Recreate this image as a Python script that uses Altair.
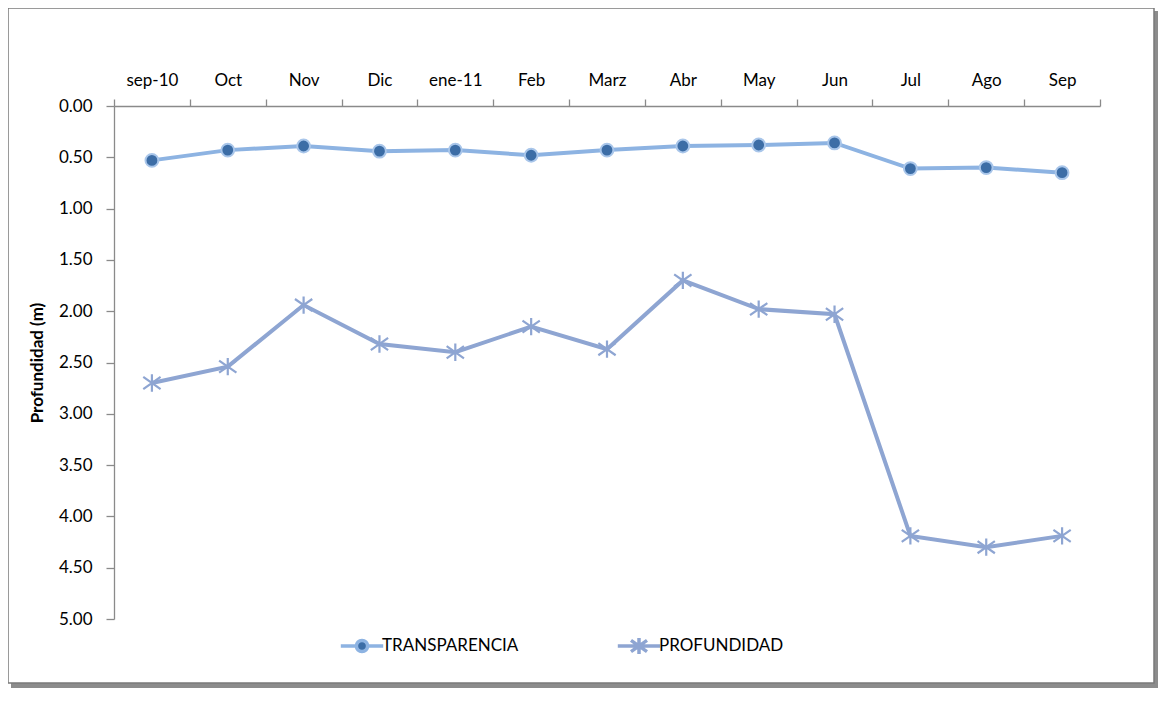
import altair as alt
import pandas as pd

months = ["sep-10", "Oct", "Nov", "Dic", "ene-11", "Feb", "Marz", "Abr", "May", "Jun", "Jul", "Ago", "Sep"]
transparencia = [0.53, 0.43, 0.39, 0.44, 0.43, 0.48, 0.43, 0.39, 0.38, 0.36, 0.61, 0.60, 0.65]
profundidad = [2.70, 2.54, 1.94, 2.32, 2.40, 2.15, 2.37, 1.70, 1.98, 2.03, 4.19, 4.30, 4.19]
series = ["TRANSPARENCIA", "PROFUNDIDAD"]
y_ticks = [0, 0.5, 1, 1.5, 2, 2.5, 3, 3.5, 4, 4.5, 5]

rows = []
for name, vals in zip(series, [transparencia, profundidad]):
    for m, v in zip(months, vals):
        rows.append({"Mes": m, "Serie": name, "Valor": v})
df = pd.DataFrame(rows)

FONT = "Lato"
circle = "M-0.8,0A0.8,0.8 0 1,1 0.8,0A0.8,0.8 0 1,1 -0.8,0Z"
star = "M0,-1V1M-1,-0.7L1,0.7M-1,0.7L1,-0.7"
leg_circle = "M-2.65,0H-0.7M0.7,0H2.65M-0.7,0A0.7,0.7 0 1,1 0.7,0A0.7,0.7 0 1,1 -0.7,0Z"
leg_star = "M-2.65,0H2.65M0,-1.0V1.0M-1.0,-0.7L1.0,0.7M-1.0,0.7L1.0,-0.7"

line_colors = ["#8DB3E2", "#8EA5D2"]

x_enc = alt.X("Mes:N", sort=months, bandPosition=0.5,
              scale=alt.Scale(type="band", paddingInner=0, paddingOuter=0),
              axis=alt.Axis(orient="top", title=None, labelAngle=0, tickBand="extent",
                            tickSize=7, labelPadding=10, labelFontSize=17, labelFont=FONT,
                            labelColor="#000000", domainColor="#8a8a8a", tickColor="#8a8a8a",
                            domainWidth=1.3, tickWidth=1.3, grid=False, zindex=1))
y_enc = alt.Y("Valor:Q",
              scale=alt.Scale(domain=[0, 5], reverse=True, nice=False, zero=False),
              axis=alt.Axis(values=y_ticks, format=".2f", title="Profundidad (m)",
                            titleFont=FONT, titleFontSize=17, titleFontWeight="bold",
                            titleColor="#000000", titlePadding=12,
                            tickSize=8, labelPadding=14, labelFontSize=17, labelFont=FONT,
                            labelColor="#000000", domainColor="#8a8a8a", tickColor="#8a8a8a",
                            domainWidth=1.3, tickWidth=1.3, grid=False, zindex=1))

one = alt.Data(values=[{}])
shadow = alt.Chart(one).mark_rect(fill="#8c8c8c").encode(
    x=alt.value(-103), x2=alt.value(1044), y=alt.value(-95), y2=alt.value(582))
frame = alt.Chart(one).mark_rect(fill="white", stroke="#7a7a7a", strokeWidth=1.5).encode(
    x=alt.value(-106), x2=alt.value(1040), y=alt.value(-98), y2=alt.value(577))

lines = alt.Chart(df).mark_line(strokeWidth=4).encode(
    x=x_enc, y=y_enc,
    color=alt.Color("Serie:N", scale=alt.Scale(domain=series, range=line_colors), legend=None),
    detail="Serie:N")

leg_common = dict(title=None, orient="none", labelFont=FONT, labelFontSize=17,
                  labelColor="#000000", symbolSize=256, symbolStrokeWidth=3.5,
                  labelOffset=10, labelLimit=400)

pts_t = alt.Chart(df).transform_filter(alt.datum.Serie == series[0]).mark_point(
    shape=circle, filled=True, size=256, stroke="#A9C6EA", strokeWidth=2, opacity=1).encode(
    x=x_enc, y=y_enc,
    fill=alt.Fill("Serie:N", scale=alt.Scale(domain=[series[0]], range=["#3C6DA6"]),
                  legend=alt.Legend(symbolType=leg_circle, symbolStrokeColor="#8DB3E2",
                                    legendX=238, legendY=530, **leg_common)))

pts_p = alt.Chart(df).transform_filter(alt.datum.Serie == series[1]).mark_point(
    shape=star, filled=False, size=300, strokeWidth=2.2, opacity=1).encode(
    x=x_enc, y=y_enc,
    stroke=alt.Stroke("Serie:N", scale=alt.Scale(domain=[series[1]], range=["#8EA5D2"]),
                      legend=alt.Legend(symbolType=leg_star,
                                        legendX=515, legendY=530, **leg_common)))

chart = alt.layer(shadow, frame, lines, pts_t, pts_p).resolve_scale(
    color="independent", fill="independent", stroke="independent").properties(
    width=986, height=513,
    autosize=alt.AutoSizeParams(type="none"),
    padding={"left": 106, "top": 98, "right": 59, "bottom": 74},
).configure_view(stroke=None).configure(background="white")

chart.save("out.html", embed_options={"renderer": "svg", "actions": False})
